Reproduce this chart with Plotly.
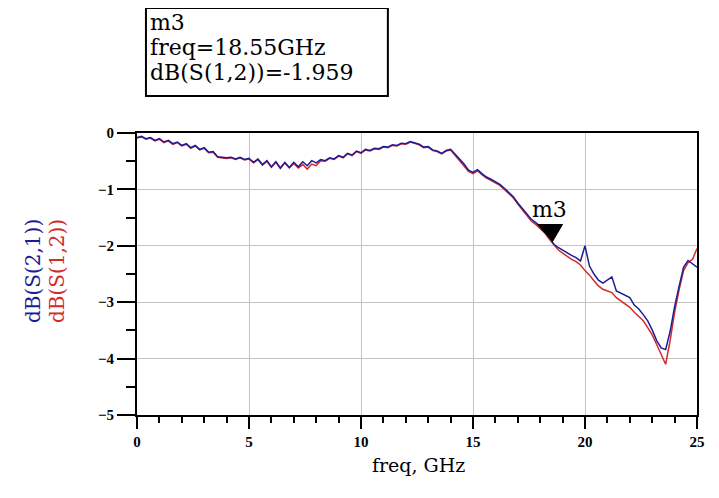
import numpy as np
import plotly.graph_objects as go

# ---------------- data ----------------
freq_ghz = np.round(np.arange(0.0, 25.0001, 0.2), 1)

s21_db = [
    -0.08, -0.06, -0.10, -0.08, -0.13, -0.10, -0.16, -0.13, -0.19, -0.16,
    -0.22, -0.19, -0.26, -0.22, -0.29, -0.26, -0.34, -0.33, -0.42, -0.43,
    -0.44, -0.43, -0.46, -0.43, -0.47, -0.45, -0.52, -0.46, -0.56, -0.49,
    -0.60, -0.51, -0.62, -0.52, -0.61, -0.52, -0.60, -0.51, -0.58, -0.49,
    -0.53, -0.47, -0.49, -0.44, -0.46, -0.40, -0.43, -0.36, -0.39, -0.32,
    -0.35, -0.29, -0.31, -0.27, -0.28, -0.24, -0.25, -0.21, -0.22, -0.18,
    -0.19, -0.15, -0.17, -0.20, -0.25, -0.24, -0.30, -0.32, -0.36, -0.31,
    -0.29, -0.37, -0.46, -0.55, -0.66, -0.70, -0.65, -0.72, -0.78, -0.82,
    -0.86, -0.91, -0.98, -1.06, -1.13, -1.24, -1.34, -1.43, -1.53, -1.59,
    -1.65, -1.72, -1.83, -1.97, -2.03, -2.08, -2.13, -2.17, -2.21, -2.27,
    -2.00, -2.36, -2.50, -2.61, -2.66, -2.60, -2.55, -2.80, -2.84, -2.87,
    -2.92, -3.05, -3.12, -3.22, -3.33, -3.49, -3.68, -3.81, -3.84, -3.52,
    -3.08, -2.72, -2.38, -2.26, -2.32, -2.38,
]

s12_db = [
    -0.09, -0.07, -0.11, -0.09, -0.14, -0.11, -0.17, -0.14, -0.20, -0.17,
    -0.23, -0.20, -0.27, -0.23, -0.30, -0.27, -0.35, -0.34, -0.43, -0.44,
    -0.45, -0.44, -0.47, -0.44, -0.48, -0.46, -0.53, -0.47, -0.57, -0.50,
    -0.61, -0.52, -0.63, -0.53, -0.62, -0.54, -0.62, -0.56, -0.64, -0.55,
    -0.58, -0.49, -0.50, -0.45, -0.47, -0.41, -0.44, -0.37, -0.40, -0.33,
    -0.36, -0.30, -0.32, -0.28, -0.29, -0.25, -0.26, -0.22, -0.23, -0.19,
    -0.20, -0.16, -0.18, -0.21, -0.26, -0.25, -0.31, -0.33, -0.37, -0.32,
    -0.30, -0.39, -0.48, -0.57, -0.68, -0.72, -0.67, -0.74, -0.80, -0.84,
    -0.88, -0.93, -1.00, -1.08, -1.15, -1.26, -1.36, -1.46, -1.56, -1.62,
    -1.69, -1.77, -1.88, -1.97, -2.07, -2.13, -2.19, -2.24, -2.28, -2.34,
    -2.44, -2.52, -2.62, -2.71, -2.77, -2.80, -2.83, -2.92, -2.98, -3.03,
    -3.09, -3.18, -3.25, -3.33, -3.45, -3.58, -3.75, -3.92, -4.10, -3.68,
    -3.18, -2.78, -2.44, -2.30, -2.24, -2.05,
]

assert len(s21_db) == len(freq_ghz) and len(s12_db) == len(freq_ghz)

marker_name = "m3"
marker_freq = 18.55
marker_val = -1.959

x_ticks = [0, 5, 10, 15, 20, 25]
y_ticks = [0, -1, -2, -3, -4, -5]

BLUE = "#1c1c98"
RED = "#d42a2a"

# ---------------- figure ----------------
fig = go.Figure()
fig.add_trace(go.Scatter(x=freq_ghz, y=s12_db, mode="lines",
                         line=dict(color=RED, width=1.5), name="dB(S(1,2))"))
fig.add_trace(go.Scatter(x=freq_ghz, y=s21_db, mode="lines",
                         line=dict(color=BLUE, width=1.5), name="dB(S(2,1))"))

tickfont = dict(family="Liberation Serif", size=15, color="black", weight="bold")

fig.update_layout(
    width=719, height=498,
    margin=dict(l=129, r=30, t=125, b=91),
    paper_bgcolor="white", plot_bgcolor="white",
    showlegend=False,
    xaxis=dict(range=[0, 25], tickvals=x_ticks, ticks="outside", ticklen=12,
               tickwidth=2, tickcolor="black", showline=True, linecolor="black",
               linewidth=2, mirror=True, showgrid=True, gridcolor="#c4c4c4",
               gridwidth=1, zeroline=False, tickfont=tickfont,
               minor=dict(dtick=1, ticks="outside", ticklen=6, tickwidth=2,
                          tickcolor="black", showgrid=False)),
    yaxis=dict(range=[-5, 0], tickvals=y_ticks, ticks="outside", ticklen=18,
               tickwidth=2, tickcolor="black", showline=True, linecolor="black",
               linewidth=2, mirror=True, showgrid=True, gridcolor="#c4c4c4",
               gridwidth=1, zeroline=False, tickfont=tickfont,
               minor=dict(dtick=0.5, ticks="outside", ticklen=9, tickwidth=2,
                          tickcolor="black", showgrid=False)),
)

# marker readout box
fig.add_shape(type="rect", xref="paper", yref="paper",
              x0=0.016, x1=0.448, y0=1.131, y1=1.443,
              line=dict(color="black", width=2), fillcolor="white", layer="below")
box_lines = [marker_name, f"freq={marker_freq}GHz", f"dB(S(1,2))={marker_val}"]
for txt, yy in zip(box_lines, [1.392, 1.303, 1.214]):
    fig.add_annotation(xref="paper", yref="paper", x=0.022, y=yy, text=txt,
                       showarrow=False, xanchor="left", yanchor="middle",
                       borderpad=0,
                       font=dict(family="DejaVu Serif", size=22, color="black"))

# marker triangle and label
fig.add_shape(type="path", xref="x", yref="y", xsizemode="pixel", ysizemode="pixel",
              xanchor=marker_freq, yanchor=marker_val,
              path="M-15,19 L10,19 L0,2 Z",
              fillcolor="black", line=dict(color="black", width=1))
fig.add_annotation(x=marker_freq, y=marker_val, text=marker_name, showarrow=False,
                   yshift=34, xshift=-3, xanchor="center", yanchor="middle",
                   font=dict(family="DejaVu Serif", size=22, color="black"))

# axis titles
fig.add_annotation(xref="paper", yref="paper", x=0.502, y=-0.177, text="freq, GHz",
                   showarrow=False, xanchor="center", yanchor="middle",
                   font=dict(family="DejaVu Serif", size=19, color="black"))
fig.add_annotation(xref="paper", yref="paper", x=-0.186, y=0.51, text="dB(S(2,1))",
                   textangle=-90, showarrow=False, xanchor="center", yanchor="middle",
                   font=dict(family="DejaVu Serif", size=20, color=BLUE))
fig.add_annotation(xref="paper", yref="paper", x=-0.143, y=0.51, text="dB(S(1,2))",
                   textangle=-90, showarrow=False, xanchor="center", yanchor="middle",
                   font=dict(family="DejaVu Serif", size=20, color=RED))

fig.write_html("out.html")
